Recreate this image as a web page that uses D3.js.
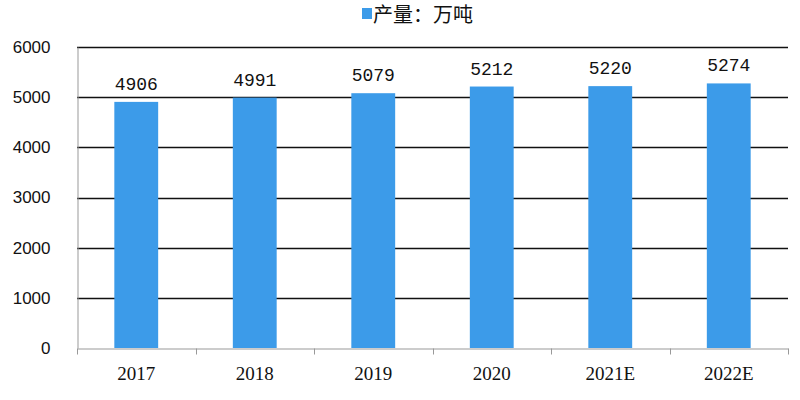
<!DOCTYPE html>
<html><head><meta charset="utf-8">
<script src="https://cdn.jsdelivr.net/npm/d3@7"></script>
<style>body{margin:0;background:#fff}</style>
</head><body>
<svg id="c" width="800" height="400"></svg>
<script>
const categories = ["2017","2018","2019","2020","2021E","2022E"];
const values = [4906,4991,5079,5212,5220,5274];
const yTicks = [0,1000,2000,3000,4000,5000,6000];
const seriesName = "产量：万吨";

const svg = d3.select("#c");
const m = {l:77, r:12, t:47, b:52};
const W = 800, H = 400;
const x = d3.scaleBand().domain(categories).range([m.l, W-m.r]).paddingInner(0.63).paddingOuter(0.315);
const y = d3.scaleLinear().domain([0,6000]).range([H-m.b, m.t]);

// gridlines
svg.append("g").selectAll("line").data(yTicks.filter(d=>d>0)).join("line")
  .attr("x1", m.l).attr("x2", W-m.r)
  .attr("y1", d=>Math.round(y(d))+0.5).attr("y2", d=>Math.round(y(d))+0.5)
  .attr("stroke","#111").attr("stroke-width",1.3);

// bars
svg.append("g").selectAll("rect").data(values).join("rect")
  .attr("x",(d,i)=>x(categories[i])).attr("width",x.bandwidth())
  .attr("y",d=>y(d)).attr("height",d=>y(0)-y(d))
  .attr("fill","#3c9be9");

// y axis
const ya = svg.append("g").attr("transform",`translate(${m.l+0.5},0)`)
  .call(d3.axisLeft(y).tickValues(yTicks).tickSize(0).tickPadding(27).tickFormat(d3.format("d")));
ya.select(".domain").attr("stroke","#999");
ya.selectAll("text").attr("font-family","Liberation Sans, Arial, sans-serif").attr("font-size",17).attr("fill","#111");

// x axis
const xa = svg.append("g").attr("transform",`translate(0,${Math.round(y(0))+0.5})`)
  .call(d3.axisBottom(x).tickSize(0).tickPadding(18));
xa.select(".domain").attr("stroke","#999");
xa.selectAll("text").attr("font-family","Liberation Serif, Times New Roman, serif").attr("font-size",19).attr("fill","#111");
const edges = categories.map(c=>x(c)-x.step()*x.paddingInner()/2);
edges.push(W-m.r);
xa.append("g").selectAll("line").data(edges).join("line")
  .attr("x1",d=>Math.round(d)+0.5).attr("x2",d=>Math.round(d)+0.5)
  .attr("y1",0).attr("y2",6).attr("stroke","#999");

// data labels
svg.append("g").selectAll("text").data(values).join("text")
  .attr("x",(d,i)=>x(categories[i])+x.bandwidth()/2)
  .attr("y",d=>y(d)-12)
  .attr("text-anchor","middle")
  .attr("font-family","Liberation Mono, monospace").attr("font-size",18).attr("fill","#111")
  .text(d=>d);

// legend
const lg = svg.append("g");
lg.append("rect").attr("x",362).attr("y",8).attr("width",10).attr("height",11).attr("fill","#3c9be9");
lg.append("text").attr("x",373).attr("y",22).attr("font-family","Noto Sans CJK SC, sans-serif")
  .attr("font-size",20).attr("fill","#111").text(seriesName);
</script>
</body></html>
